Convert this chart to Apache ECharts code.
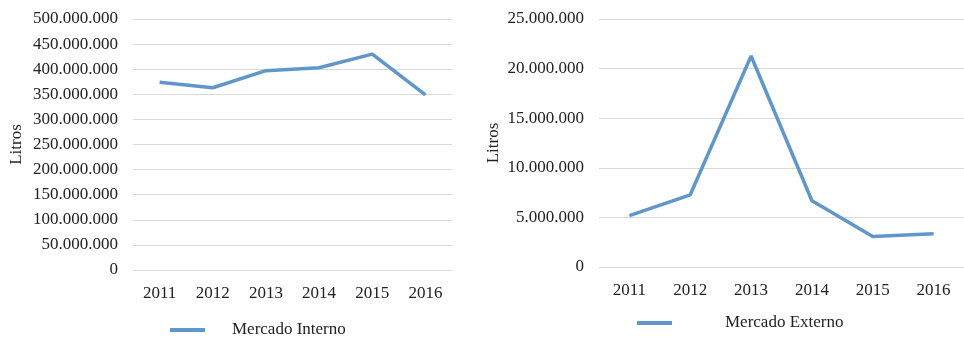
<!DOCTYPE html>
<html>
<head>
<meta charset="utf-8">
<script src="https://cdn.jsdelivr.net/npm/echarts@6/dist/echarts.min.js"></script>
<style>html,body{margin:0;padding:0;background:#fff;}#c{width:964px;height:337px;}</style>
</head>
<body>
<div id="c"></div>
<script>
var years = ['2011','2012','2013','2014','2015','2016'];
var interno = [374000000, 363000000, 397000000, 403000000, 430000000, 349000000];
var externo = [5170000, 7280000, 21270000, 6680000, 3080000, 3350000];
var nameInterno = 'Mercado Interno';
var nameExterno = 'Mercado Externo';
var yName = 'Litros';

function fmt(v){
  return String(Math.round(v)).replace(/\B(?=(\d{3})+(?!\d))/g, '.');
}
var font = 'Liberation Serif';
var color = '#6196cb';
var chart = echarts.init(document.getElementById('c'));
function yAxis(idx, max, interval, nameGap){
  return {
    type:'value', gridIndex: idx, min:0, max:max, interval:interval,
    name: yName, nameLocation:'middle', nameRotate:90, nameGap:nameGap,
    nameTextStyle:{fontFamily:font, fontSize:17, color:'#222'},
    axisLabel:{formatter:fmt, fontFamily:font, fontSize:17, color:'#222', margin:15},
    axisLine:{show:false}, axisTick:{show:false},
    splitLine:{lineStyle:{color:'#d9d9d9', width:1}}
  };
}
function xAxis(idx){
  return {
    type:'category', gridIndex: idx, data: years, boundaryGap:true,
    axisLabel:{fontFamily:font, fontSize:17, color:'#222', margin:15},
    axisLine:{show:false}, axisTick:{show:false}
  };
}
chart.setOption({
  animation:false,
  grid:[
    {left:133, width:319, top:19, height:251},
    {left:599, width:369, top:19, height:248}
  ],
  xAxis:[xAxis(0), xAxis(1)],
  yAxis:[yAxis(0, 500000000, 50000000, 108), yAxis(1, 25000000, 5000000, 97)],
  legend:[
    {data:[nameInterno], left:165, top:316, itemWidth:35, itemHeight:4, icon:'rect',
     textStyle:{fontFamily:font, fontSize:17, color:'#222', lineHeight:18, padding:[0,0,0,22]}},
    {data:[nameExterno], left:632, top:309, itemWidth:35, itemHeight:4, icon:'rect',
     textStyle:{fontFamily:font, fontSize:17, color:'#222', lineHeight:18, padding:[0,0,0,48]}}
  ],
  series:[
    {name:nameInterno, type:'line', xAxisIndex:0, yAxisIndex:0, data:interno, symbol:'none',
     lineStyle:{color:color, width:3.5}, itemStyle:{color:color}},
    {name:nameExterno, type:'line', xAxisIndex:1, yAxisIndex:1, data:externo, symbol:'none',
     lineStyle:{color:color, width:3.5}, itemStyle:{color:color}}
  ]
});
</script>
</body>
</html>
